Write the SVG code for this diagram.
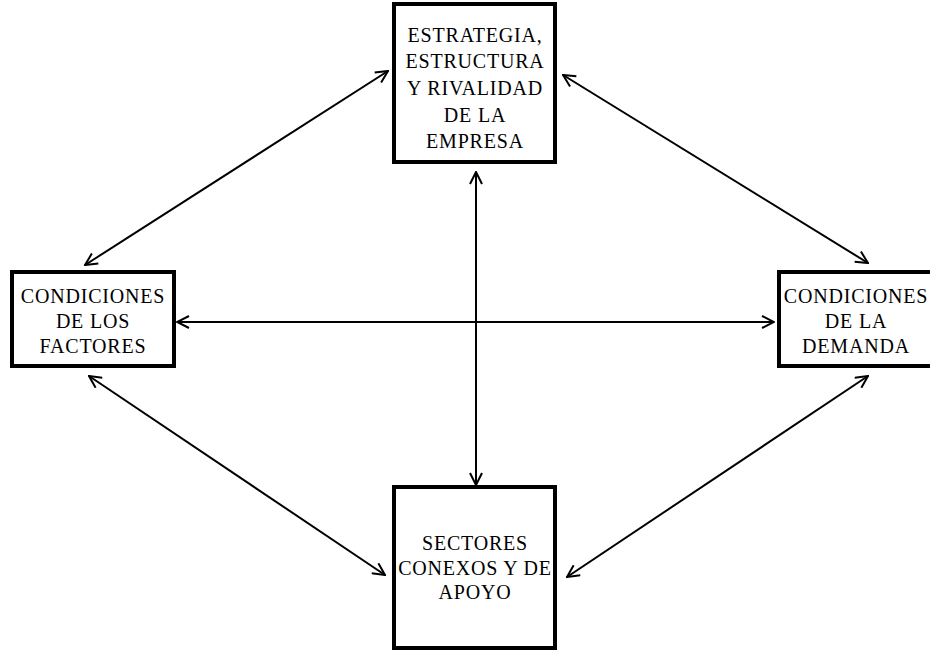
<svg xmlns="http://www.w3.org/2000/svg" width="930" height="650" viewBox="0 0 930 650">
<defs>
<marker id="ah" viewBox="0 0 14 14" refX="13" refY="7" markerWidth="14" markerHeight="14" markerUnits="userSpaceOnUse" orient="auto-start-reverse">
<path d="M1,1 L13,7 L1,13" fill="none" stroke="#000" stroke-width="2"/>
</marker>
<style>
.box{fill:#fff;stroke:#000;stroke-width:4}
.t{font-family:"Liberation Serif","Times New Roman",serif;font-size:20px;letter-spacing:0.8px;text-anchor:middle;fill:#000}
.c{fill:none;stroke:#000;stroke-width:2;marker-start:url(#ah);marker-end:url(#ah)}
</style>
</defs>
<rect width="930" height="650" fill="#fff"/>
<g id="connectors">
<line class="c" x1="388" y1="71" x2="85" y2="265"/>
<line class="c" x1="563" y1="75" x2="868" y2="263"/>
<line class="c" x1="89" y1="376" x2="385" y2="575"/>
<line class="c" x1="868" y1="376" x2="567" y2="577"/>
<line class="c" x1="177" y1="322" x2="774" y2="322"/>
<line class="c" x1="476" y1="172" x2="476" y2="485"/>
</g>
<g id="estrategia">
<rect class="box" x="394" y="4" width="161" height="158"/>
<text class="t" x="475" y="42">ESTRATEGIA,</text>
<text class="t" x="475" y="68">ESTRUCTURA</text>
<text class="t" x="475" y="95">Y RIVALIDAD</text>
<text class="t" x="475" y="122">DE LA</text>
<text class="t" x="475" y="148">EMPRESA</text>
</g>
<g id="factores">
<rect class="box" x="12" y="272" width="162" height="94"/>
<text class="t" x="93" y="303">CONDICIONES</text>
<text class="t" x="93" y="328">DE LOS</text>
<text class="t" x="93" y="353">FACTORES</text>
</g>
<g id="demanda">
<rect class="box" x="779" y="272" width="170" height="94"/>
<text class="t" x="856" y="303">CONDICIONES</text>
<text class="t" x="856" y="328">DE LA</text>
<text class="t" x="856" y="353">DEMANDA</text>
</g>
<g id="sectores">
<rect class="box" x="394" y="487" width="161" height="161"/>
<text class="t" x="475" y="550">SECTORES</text>
<text class="t" x="475" y="575">CONEXOS Y DE</text>
<text class="t" x="475" y="599">APOYO</text>
</g>
</svg>
